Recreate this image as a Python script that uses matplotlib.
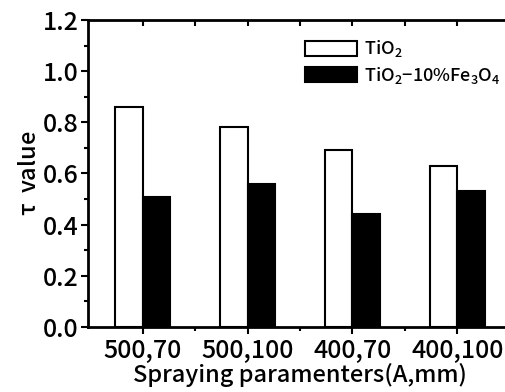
import numpy as np
import matplotlib.pyplot as plt
from matplotlib.ticker import MultipleLocator, FixedLocator

plt.rcParams['font.family'] = ['Noto Sans CJK JP', 'DejaVu Sans']
plt.rcParams['font.weight'] = 'medium'
plt.rcParams['axes.labelweight'] = 'medium'
plt.rcParams['mathtext.default'] = 'regular'

# data
categories = ['500,70', '500,100', '400,70', '400,100']
tio2 = [0.86, 0.78, 0.69, 0.63]
tio2_fe = [0.51, 0.56, 0.44, 0.53]
series_names = ['TiO$_2$', 'TiO$_2$$-$10%Fe$_3$O$_4$']

fig = plt.figure(figsize=(5.05, 3.92), dpi=100)
ax = fig.add_axes([88 / 505, 65 / 392, (512 - 88) / 505, 307 / 392])

x = np.arange(1, len(categories) + 1)
w = 0.26
ax.bar(x - w / 2, tio2, w, color='white', edgecolor='black', linewidth=1.5, label=series_names[0])
ax.bar(x + w / 2, tio2_fe, w, color='black', edgecolor='black', linewidth=1.5, label=series_names[1])

ax.set_xlim(0.48, 4.52)
ax.set_ylim(0, 1.2)
ax.set_xticks(x)
ax.set_xticklabels(categories)
ax.xaxis.set_minor_locator(FixedLocator(x[:-1] + 0.5))
ax.yaxis.set_major_locator(MultipleLocator(0.2))
ax.yaxis.set_minor_locator(MultipleLocator(0.1))
ax.yaxis.set_major_formatter(plt.FormatStrFormatter('%.1f'))

for s in ax.spines.values():
    s.set_linewidth(2)
ax.tick_params(which='both', direction='out', width=1.5, labelsize=18)
ax.tick_params(axis='x', pad=3)
ax.tick_params(axis='y', pad=2)
ax.tick_params(which='major', length=5)
ax.tick_params(which='minor', length=3)

# inward ticks on top and right
top = ax.secondary_xaxis('top')
top.set_xticks(np.concatenate([x, x[:-1] + 0.5]))
top.tick_params(direction='in', length=4, width=1.5, labeltop=False)
right = ax.secondary_yaxis('right')
right.yaxis.set_major_locator(MultipleLocator(0.2))
right.yaxis.set_minor_locator(MultipleLocator(0.1))
right.tick_params(which='both', direction='in', width=1.5, labelright=False)
right.tick_params(which='major', length=5)
right.tick_params(which='minor', length=3)

ax.set_xlabel('Spraying paramenters(A,mm)', fontsize=17, labelpad=-1)
ax.set_ylabel(r'$\tau$  value', fontsize=17)
ax.yaxis.set_label_coords(-0.11, 0.5)

ax.legend(loc='upper left', bbox_to_anchor=(0.49, 0.97), frameon=False, fontsize=13,
          handlelength=2.9, handleheight=0.9, handletextpad=0.4, labelspacing=0.3,
          borderpad=0)

fig.savefig('out.png', dpi=100)
